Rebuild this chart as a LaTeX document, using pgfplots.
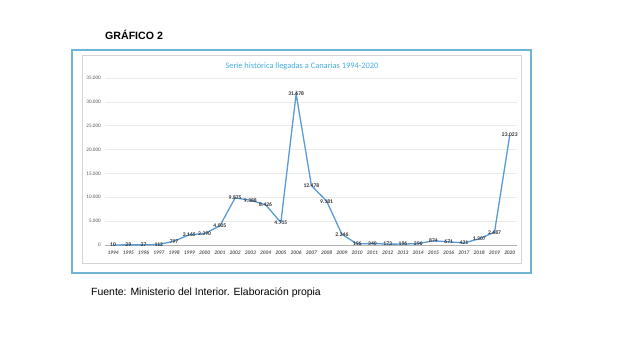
\documentclass[border=0pt]{standalone}
\usepackage{pgfplots}
\pgfplotsset{compat=1.18}
\usepackage{fontspec}
\setmainfont{Liberation Sans}
\newfontfamily\calibri{Carlito}
\definecolor{frameblue}{RGB}{110,180,215}
\definecolor{lineblue}{RGB}{91,155,213}
\definecolor{titleblue}{RGB}{70,175,225}
\definecolor{gridgrey}{RGB}{235,235,235}
\definecolor{ticktext}{RGB}{90,90,90}
\begin{document}
\begin{tikzpicture}[x=1pt,y=1pt]
\useasboundingbox (0,0) rectangle (630,350);
\fill[white] (0,0) rectangle (630,350);
\node[anchor=west,inner sep=0pt,font=\fontsize{10.6}{13}\selectfont\bfseries] at (105,315) {GRÁFICO 2};
\draw[frameblue,line width=1.6pt] (72,300) rectangle (531,77);
\draw[gridgrey!80!gray,line width=0.4pt] (82,295) rectangle (521,87);
\node[font=\calibri\fontsize{8.4}{10}\selectfont,text=titleblue] at (302,284) {Serie histórica llegadas a Canarias 1994-2020};
\node[anchor=west,inner sep=0pt,font=\fontsize{10.45}{12}\selectfont] at (91,57) {Fuente: Ministerio del Interior. Elaboración propia};
\begin{axis}[
  at={(105.4pt,105pt)}, anchor=south west,
  scale only axis, width=412pt, height=167pt,
  xmin=1993.5, xmax=2020.5, ymin=0, ymax=35000,
  xtick={1994,...,2020}, ytick={0,5000,...,35000},
  scaled y ticks=false,
  axis x line*=bottom, axis y line*=left,
  y axis line style={draw=none},
  x axis line style={draw=gray!60, line width=0.5pt},
  major tick length=0pt,
  ymajorgrids, grid style={gridgrey, line width=0.5pt},
  /pgf/number format/assume math mode=true,
  y tick label style={font=\calibri\fontsize{5.2}{6}\selectfont, text=ticktext, /pgf/number format/.cd, fixed, 1000 sep={.}},
  x tick label style={font=\calibri\itshape\bfseries\fontsize{5.4}{6}\selectfont, text=ticktext, /pgf/number format/.cd, 1000 sep={}},
  xticklabel shift=2pt, yticklabel shift=1pt,
  nodes near coords={\pgfmathprintnumber[fixed,precision=0,1000 sep={.}]{\pgfplotspointmeta}},
  every node near coord/.append style={font=\calibri\bfseries\fontsize{5.6}{6}\selectfont, text=black!80, anchor=center, inner sep=0pt},
  clip=false,
]
\addplot[lineblue, line width=1.3pt, mark=none] coordinates {
(1994,10) (1995,29) (1996,27) (1997,112) (1998,797) (1999,2165) (2000,2390)
(2001,4005) (2002,9875) (2003,9388) (2004,8426) (2005,4715) (2006,31678)
(2007,12478) (2008,9181) (2009,2246) (2010,196) (2011,340) (2012,173)
(2013,196) (2014,296) (2015,874) (2016,671) (2017,421) (2018,1307)
(2019,2687) (2020,23023)
};
\end{axis}
\end{tikzpicture}
\end{document}
